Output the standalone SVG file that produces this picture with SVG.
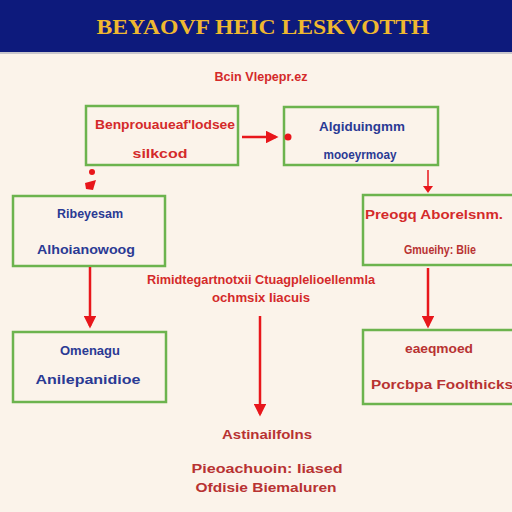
<svg xmlns="http://www.w3.org/2000/svg" width="512" height="512" viewBox="0 0 512 512">
<defs>
<style>
.box{fill:none;stroke:#6cb34e;stroke-width:2.5}
.b{fill:#2a3a94;font-family:"Liberation Sans",Arial,sans-serif;font-weight:bold;font-size:13px;text-anchor:middle}
.r{fill:#d42a2a;font-family:"Liberation Sans",Arial,sans-serif;font-weight:bold;font-size:13px;text-anchor:middle}
.dr{fill:#b83232}
.ln{stroke:#e8161b;stroke-width:2.5;fill:none}
</style>
<marker id="ah" viewBox="0 0 10 10" refX="8" refY="5" markerWidth="5" markerHeight="5" orient="auto">
<path d="M0,0 L10,5 L0,10 z" fill="#e8161b"/>
</marker>
</defs>
<rect width="512" height="512" fill="#fbf3ea"/>
<g id="header">
<rect x="0" y="0" width="512" height="52" fill="#0d1a7c"/>
<rect x="0" y="52" width="512" height="2" fill="#c8c6cc"/>
<text x="263" y="34" font-family="'Liberation Serif',serif" font-size="22" font-weight="bold" fill="#efb830" text-anchor="middle" textLength="333" lengthAdjust="spacingAndGlyphs">BEYAOVF  HEIC  LESKVOTTH</text>
</g>
<g id="top-label"><text class="r" x="261" y="81" font-size="11" textLength="93" lengthAdjust="spacingAndGlyphs">Bcin Vlepepr.ez</text></g>
<g id="n1">
<rect class="box" x="86" y="106" width="152" height="59"/>
<text class="r" x="165" y="129" textLength="140" lengthAdjust="spacingAndGlyphs">Benprouaueaf'lodsee</text>
<text class="r" x="160" y="158" textLength="55" lengthAdjust="spacingAndGlyphs">silkcod</text>
</g>
<g id="n2">
<rect class="box" x="284" y="107" width="154" height="58"/>
<text class="b" x="362" y="131" textLength="86" lengthAdjust="spacingAndGlyphs">Algiduingmm</text>
<text class="b" x="360" y="159" font-size="11" textLength="73" lengthAdjust="spacingAndGlyphs">mooeyrmoay</text>
</g>
<g id="n3">
<rect class="box" x="13" y="196" width="152" height="70"/>
<text class="b" x="90" y="218" textLength="66" lengthAdjust="spacingAndGlyphs">Ribeyesam</text>
<text class="b" x="86" y="254" textLength="98" lengthAdjust="spacingAndGlyphs">Alhoianowoog</text>
</g>
<g id="n4">
<rect class="box" x="363" y="195" width="152" height="70"/>
<text class="r" x="434" y="219" textLength="138" lengthAdjust="spacingAndGlyphs">Preogq Aborelsnm.</text>
<text class="r dr" x="440" y="254" textLength="72" lengthAdjust="spacingAndGlyphs">Gmueihy: Blie</text>
</g>
<g id="center-label">
<text class="r" x="261" y="284" font-size="12" textLength="228" lengthAdjust="spacingAndGlyphs">Rimidtegartnotxii Ctuagplelioellenmla</text>
<text class="r" x="261" y="302" font-size="12" textLength="98" lengthAdjust="spacingAndGlyphs">ochmsix Iiacuis</text>
</g>
<g id="n5">
<rect class="box" x="13" y="332" width="153" height="70"/>
<text class="b" x="90" y="355" textLength="60" lengthAdjust="spacingAndGlyphs">Omenagu</text>
<text class="b" x="88" y="384" textLength="105" lengthAdjust="spacingAndGlyphs">Anilepanidioe</text>
</g>
<g id="n6">
<rect class="box" x="363" y="330" width="152" height="74"/>
<text class="r dr" x="439" y="353" textLength="68" lengthAdjust="spacingAndGlyphs">eaeqmoed</text>
<text class="r dr" x="442" y="389" textLength="142" lengthAdjust="spacingAndGlyphs">Porcbpa Foolthicks</text>
</g>
<g id="bottom-label">
<text class="r dr" x="267" y="439" textLength="90" lengthAdjust="spacingAndGlyphs">Astinailfolns</text>
<text class="r dr" x="267" y="473" textLength="151" lengthAdjust="spacingAndGlyphs">Pieoachuoin: Iiased</text>
<text class="r dr" x="266" y="492" textLength="141" lengthAdjust="spacingAndGlyphs">Ofdisie Biemaluren</text>
</g>
<g id="connectors">
<line class="ln" x1="242" y1="137" x2="276" y2="137" marker-end="url(#ah)"/>
<circle cx="288" cy="137" r="3.5" fill="#e8161b"/>
<circle cx="92" cy="172" r="3" fill="#e8161b"/>
<path d="M85,183 L96,180 L93,190 L86,189 z" fill="#e8161b"/>
<line x1="428" y1="170" x2="428" y2="186" stroke="#e8161b" stroke-width="1.5"/>
<path d="M423,186 L433,186 L428,193 z" fill="#e8161b"/>
<line class="ln" x1="90" y1="267" x2="90" y2="326" marker-end="url(#ah)"/>
<line class="ln" x1="428" y1="268" x2="428" y2="326" marker-end="url(#ah)"/>
<line class="ln" x1="260" y1="316" x2="260" y2="414" marker-end="url(#ah)"/>
</g>
</svg>
